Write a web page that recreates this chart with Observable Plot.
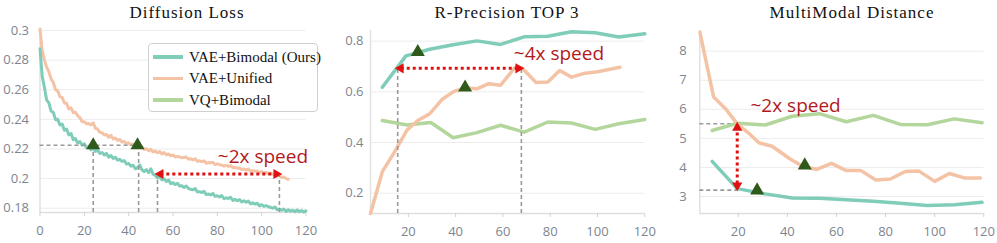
<!DOCTYPE html>
<html><head><meta charset="utf-8">
<script src="https://cdn.jsdelivr.net/npm/d3@7"></script>
<script src="https://cdn.jsdelivr.net/npm/@observablehq/plot@0.6"></script>
<style>
body{margin:0;background:#fff;}
#wrap{position:relative;width:997px;height:243px;overflow:hidden;background:#fff;}
.panel{position:absolute;top:0;}
.title{position:absolute;top:3px;font-family:"Liberation Serif",serif;font-size:17px;letter-spacing:1px;color:#111;white-space:nowrap;transform:translateX(-50%);}
.legend{position:absolute;left:148px;top:43px;width:170px;height:69px;border:1.5px solid #d0d0d0;border-radius:4px;background:rgba(255,255,255,0.92);box-sizing:border-box;}
.row{position:absolute;left:4px;height:20px;display:flex;align-items:center;font-family:"Liberation Serif",serif;font-size:15px;color:#111;white-space:nowrap;}
.sw{width:30px;height:3.5px;margin-right:6px;}
</style></head>
<body>
<div id="wrap"></div>
<script>
// ---------- data ----------
const seriesNames = ["VAE+Bimodal (Ours)", "VAE+Unified", "VQ+Bimodal"];
const seriesColors = ["#7fcdb9", "#f4c3a5", "#b3d69c"];
const titles = ["Diffusion Loss", "R-Precision TOP 3", "MultiModal Distance"];

// Diffusion loss per epoch (index = epoch)
const lossOurs = [0.2876,0.2690,0.2615,0.2530,0.2512,0.2455,0.2448,0.2398,0.2400,0.2362,
0.2368,0.2326,0.2335,0.2295,0.2304,0.2262,0.2270,0.2240,0.2250,0.2226,
0.2234,0.2208,0.2216,0.2194,0.2204,0.2184,0.2192,0.2170,0.2176,0.2160,
0.2170,0.2144,0.2156,0.2136,0.2144,0.2124,0.2130,0.2116,0.2122,0.2098,
0.2102,0.2084,0.2090,0.2066,0.2074,0.2092,0.2058,0.2048,0.2060,0.2040,
0.2066,0.2030,0.2022,0.2004,0.2012,0.1992,0.1998,0.1980,0.1990,0.1966,
0.1972,0.1960,0.1968,0.1950,0.1952,0.1940,0.1950,0.1932,0.1928,0.1924,
0.1932,0.1910,0.1912,0.1906,0.1914,0.1892,0.1896,0.1890,0.1900,0.1880,
0.1884,0.1876,0.1886,0.1864,0.1870,0.1866,0.1874,0.1852,0.1860,0.1850,
0.1858,0.1842,0.1850,0.1840,0.1848,0.1830,0.1836,0.1828,0.1834,0.1816,
0.1824,0.1812,0.1818,0.1810,0.1806,0.1800,0.1808,0.1790,0.1794,0.1786,
0.1794,0.1778,0.1790,0.1780,0.1786,0.1776,0.1788,0.1776,0.1784,0.1774,0.1782];
const lossUnified = [0.3010,0.2862,0.2800,0.2752,0.2722,0.2672,0.2650,0.2600,0.2592,0.2552,
0.2548,0.2510,0.2508,0.2470,0.2478,0.2446,0.2448,0.2424,0.2412,0.2384,
0.2384,0.2370,0.2372,0.2362,0.2376,0.2340,0.2334,0.2312,0.2310,0.2294,
0.2298,0.2278,0.2292,0.2268,0.2274,0.2258,0.2264,0.2246,0.2250,0.2236,
0.2242,0.2228,0.2234,0.2220,0.2226,0.2210,0.2214,0.2196,0.2202,0.2188,
0.2198,0.2180,0.2186,0.2174,0.2182,0.2166,0.2176,0.2160,0.2166,0.2154,
0.2160,0.2146,0.2150,0.2146,0.2140,0.2142,0.2146,0.2130,0.2134,0.2126,
0.2134,0.2116,0.2120,0.2114,0.2120,0.2104,0.2108,0.2106,0.2110,0.2094,
0.2100,0.2094,0.2092,0.2084,0.2090,0.2082,0.2088,0.2074,0.2076,0.2070,
0.2072,0.2060,0.2066,0.2058,0.2064,0.2050,0.2054,0.2050,0.2052,0.2040,
0.2048,0.2038,0.2042,0.2032,0.2038,0.2030,0.2028,0.2018,0.2022,0.2008,
0.2010,0.2000,0.1996];

// R-Precision TOP 3 [epoch, value]
const rpOurs = [[9,0.618],[19,0.742],[29,0.768],[39,0.786],[49,0.801],[59,0.787],[69,0.817],[79,0.819],[89,0.837],[99,0.833],[109,0.816],[120,0.829]];
const rpUnified = [[4,0.12],[9,0.285],[14,0.36],[19.5,0.45],[24,0.487],[29,0.513],[34.5,0.572],[39.3,0.602],[44,0.615],[49,0.612],[54,0.632],[59,0.626],[65,0.695],[68,0.695],[74,0.637],[79,0.639],[84,0.684],[89,0.658],[94,0.672],[100,0.679],[109.5,0.697]];
const rpVQ = [[9,0.487],[19.5,0.469],[29.5,0.479],[39,0.419],[49,0.439],[59,0.468],[69,0.441],[79,0.481],[89,0.477],[99,0.452],[109,0.474],[120,0.491]];

// MultiModal Distance [epoch, value]
const mmOurs = [[9.4,4.21],[19.6,3.27],[31,3.09],[42,2.95],[53,2.94],[64,2.89],[75,2.84],[86,2.77],[97,2.69],[108,2.72],[119.3,2.8]];
const mmUnified = [[4.4,8.65],[10,6.42],[15,6.0],[19.6,5.5],[24,5.2],[28.4,4.85],[33.8,4.73],[41,4.3],[46,4.05],[52,3.93],[58,4.14],[64,3.89],[70,3.89],[76,3.57],[82,3.6],[88,3.86],[93.5,3.88],[100,3.52],[106,3.79],[112,3.64],[118.6,3.64]];
const mmVQ = [[9.4,5.27],[19.6,5.52],[31,5.46],[42,5.76],[53,5.85],[64,5.57],[75,5.79],[86,5.48],[97,5.47],[108,5.67],[119.3,5.54]];

// ticks
const lossXTicks = [0,20,40,60,80,100,120];
const lossYTicks = [0.18,0.2,0.22,0.24,0.26,0.28,0.3];
const rpXTicks = [20,40,60,80,100,120];
const rpYTicks = [0.2,0.4,0.6,0.8];
const mmXTicks = [20,40,60,80,100,120];
const mmYTicks = [3,4,5,6,7,8];

// annotations (data space)
const lossMarkers = [[24,0.2225],[44,0.2225]];
const lossHDash = [{x1:0,x2:44.5,y:0.2225}];
const lossVDash = [{x:24,y:0.2225},{x:44.5,y:0.2225},{x:53,y:0.2015},{x:108,y:0.2015}];
const lossArrow = {x1:53,x2:108,y:0.2031};
const lossText = {x:80.2,y:0.2144,label:"~2x speed"};

const rpMarkers = [[24,0.757],[44,0.617]];
const rpVDash = [{x:15.5,y:0.693},{x:67.8,y:0.693}];
const rpArrow = {x1:15.5,x2:67.8,y:0.693};
const rpText = {x:64.6,y:0.75,label:"~4x speed"};

const mmMarkers = [[27.7,3.21],[47.1,4.07]];
const mmHDash = [{x2:19.6,y:5.5},{x2:19.6,y:3.22}];
const mmArrow = {x:19.6,y1:5.47,y2:3.28};
const mmText = {x:25,y:6.13,label:"~2x speed"};

// ---------- style ----------
const teal = seriesColors[0], orange = seriesColors[1], green = seriesColors[2];
const red = "#e01010", textRed = "#b3191c", markerGreen = "#2f5a1c", dashGray = "#9a9a9a";
const fmt = d => String(+d.toFixed(2));
const baseStyle = {fontFamily: "Open Sans", fontSize: "13px", color: "#7d8590", background: "transparent", overflow: "visible"};

function frameMarks(xd, yd, xt, yt, pad) {
  return [
    Plot.gridY(yt, {stroke: "#ececec", strokeOpacity: 1, strokeWidth: 1}),
    Plot.ruleX([xd[0]], {stroke: "#e2e2e2", strokeWidth: 1.5}),
    Plot.ruleY([yd[0]], {stroke: "#dedede", strokeWidth: 1.5}),
    Plot.axisY(yt, {tickSize: 0, tickPadding: pad, tickFormat: fmt, fill: "#7d8590", label: null}),
    Plot.axisX(xt, {tickSize: 4, tickPadding: 9, stroke: "#d2d2d2", fill: "#7d8590", tickFormat: d => String(d), label: null})
  ];
}
function markerDots(pts) {
  return Plot.dot(pts, {x: d => d[0], y: d => d[1], symbol: "triangle", r: 5.2, fill: markerGreen, stroke: "none"});
}
function annText(t) {
  return Plot.text([t], {x: "x", y: "y", text: "label", textAnchor: "start", fontSize: 19, fill: textRed, fontFamily: "Open Sans"});
}

const wrap = document.getElementById("wrap");
function place(svg, left) {
  const d = document.createElement("div");
  d.className = "panel"; d.style.left = left + "px";
  d.appendChild(svg); wrap.appendChild(d);
}
const dash = {stroke: dashGray, strokeWidth: 1.6, strokeDasharray: "4,3"};
const dots = {stroke: red, strokeWidth: 3, strokeDasharray: "3,3"};

// ---------- panel 1 ----------
const lossXD = [0,120], lossYD = [0.1771,0.3];
const p1 = Plot.plot({
  width: 330, height: 243, marginLeft: 39.5, marginRight: 24.5, marginTop: 30, marginBottom: 31,
  x: {domain: lossXD}, y: {domain: lossYD}, clip: false, style: baseStyle,
  marks: [
    ...frameMarks(lossXD, lossYD, lossXTicks, lossYTicks, 11),
    Plot.line(lossUnified, {x: (d,i) => i, y: d => d, stroke: orange, strokeWidth: 3}),
    Plot.line(lossOurs, {x: (d,i) => i, y: d => d, stroke: teal, strokeWidth: 3}),
    Plot.ruleY(lossHDash, {x1: "x1", x2: "x2", y: "y", ...dash}),
    Plot.ruleX(lossVDash, {x: "x", y1: () => lossYD[0], y2: "y", ...dash}),
    Plot.ruleY([lossArrow], {x1: d => d.x1 + 1.5, x2: d => d.x2 - 1.5, y: "y", ...dots}),
    Plot.dot([lossArrow], {x: "x1", y: "y", symbol: "triangle", rotate: -90, r: 3.8, fill: red, dx: 3}),
    Plot.dot([lossArrow], {x: "x2", y: "y", symbol: "triangle", rotate: 90, r: 3.8, fill: red, dx: -3}),
    markerDots(lossMarkers),
    annText(lossText)
  ]
});
place(p1, 0);

// ---------- panel 2 ----------
const rpXD = [4,120], rpYD = [0.12,0.842];
const p2 = Plot.plot({
  width: 330, height: 243, marginLeft: 40, marginRight: 15.7, marginTop: 30, marginBottom: 30,
  x: {domain: rpXD}, y: {domain: rpYD}, style: baseStyle,
  marks: [
    ...frameMarks(rpXD, rpYD, rpXTicks, rpYTicks, 7),
    Plot.line(rpVQ, {stroke: green, strokeWidth: 3.5}),
    Plot.line(rpUnified, {stroke: orange, strokeWidth: 3.5}),
    Plot.line(rpOurs, {stroke: teal, strokeWidth: 3.5}),
    Plot.ruleX(rpVDash, {x: "x", y1: () => rpYD[0], y2: "y", ...dash}),
    Plot.ruleY([rpArrow], {x1: d => d.x1 + 1.5, x2: d => d.x2 - 1.5, y: "y", ...dots}),
    Plot.dot([rpArrow], {x: "x1", y: "y", symbol: "triangle", rotate: -90, r: 3.8, fill: red, dx: 3}),
    Plot.dot([rpArrow], {x: "x2", y: "y", symbol: "triangle", rotate: 90, r: 3.8, fill: red, dx: -3}),
    markerDots(rpMarkers),
    annText(rpText)
  ]
});
place(p2, 330);

// ---------- panel 3 ----------
const mmXD = [4.36,120], mmYD = [2.415,8.71];
const p3 = Plot.plot({
  width: 337, height: 243, marginLeft: 39.3, marginRight: 13.7, marginTop: 30, marginBottom: 30,
  x: {domain: mmXD}, y: {domain: mmYD}, style: baseStyle,
  marks: [
    ...frameMarks(mmXD, mmYD, mmXTicks, mmYTicks, 13),
    Plot.ruleY(mmHDash, {x1: () => mmXD[0], x2: "x2", y: "y", ...dash}),
    Plot.line(mmVQ, {stroke: green, strokeWidth: 3.5}),
    Plot.line(mmUnified, {stroke: orange, strokeWidth: 3.5}),
    Plot.line(mmOurs, {stroke: teal, strokeWidth: 3.5}),
    Plot.ruleX([mmArrow], {x: "x", y1: d => d.y1 - 0.08, y2: d => d.y2 + 0.08, ...dots}),
    Plot.dot([mmArrow], {x: "x", y: "y1", symbol: "triangle", r: 3.8, fill: red, dy: 3}),
    Plot.dot([mmArrow], {x: "x", y: "y2", symbol: "triangle", rotate: 180, r: 3.8, fill: red, dy: -3}),
    markerDots(mmMarkers),
    annText(mmText)
  ]
});
place(p3, 660);

// ---------- titles ----------
[[titles[0],187],[titles[1],507],[titles[2],852]].forEach(([t,x]) => {
  const d = document.createElement("div"); d.className = "title"; d.style.left = x + "px"; d.textContent = t; wrap.appendChild(d);
});

// ---------- legend ----------
const lg = document.createElement("div"); lg.className = "legend";
seriesNames.forEach((n, i) => {
  const r = document.createElement("div"); r.className = "row"; r.style.top = (3 + i * 21.5) + "px";
  const s = document.createElement("div"); s.className = "sw"; s.style.background = seriesColors[i];
  r.appendChild(s); r.appendChild(document.createTextNode(n)); lg.appendChild(r);
});
wrap.appendChild(lg);
</script>
</body></html>
